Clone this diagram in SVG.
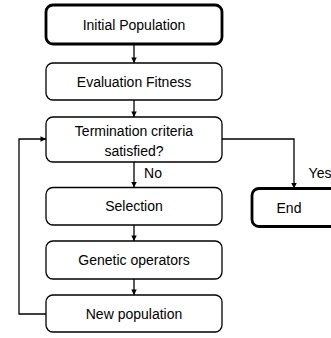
<svg xmlns="http://www.w3.org/2000/svg" width="331" height="338" viewBox="0 0 331 338">
<defs>
<marker id="arr" viewBox="0 0 10 10" refX="10" refY="5" markerWidth="6" markerHeight="5.5" markerUnits="userSpaceOnUse" orient="auto">
<path d="M0,0 L10,5 L0,10 z" fill="#000"/>
</marker>
<style>
.box{fill:#fff;stroke:#000;stroke-width:1.3}
.thick{fill:#fff;stroke:#000;stroke-width:2.8}
.t{font-family:"Liberation Sans",Arial,sans-serif;font-size:14px;fill:#000;text-anchor:middle;dominant-baseline:central}
.c{fill:none;stroke:#000;stroke-width:1.3}
</style>
</defs>
<rect width="331" height="338" fill="#fff"/>
<g id="connectors">
<line class="c" x1="134" y1="44" x2="134" y2="63" marker-end="url(#arr)"/>
<line class="c" x1="134" y1="100" x2="134" y2="117" marker-end="url(#arr)"/>
<line class="c" x1="134" y1="162" x2="134" y2="187.5" marker-end="url(#arr)"/>
<line class="c" x1="134" y1="225" x2="134" y2="241" marker-end="url(#arr)"/>
<line class="c" x1="134" y1="279" x2="134" y2="295" marker-end="url(#arr)"/>
<polyline class="c" points="46,314 19,314 19,139 46,139" marker-end="url(#arr)"/>
<polyline class="c" points="222,139 294,139 294,188.5" marker-end="url(#arr)"/>
<text class="t" x="153" y="173">No</text>
<text class="t" x="320" y="173">Yes</text>
</g>
<g id="initial">
<rect class="thick" x="46" y="5" width="176" height="39" rx="7"/>
<text class="t" x="134" y="24.5">Initial Population</text>
</g>
<g id="evaluation">
<rect class="box" x="46" y="63" width="176" height="37" rx="7"/>
<text class="t" x="134" y="81.5">Evaluation Fitness</text>
</g>
<g id="termination">
<rect class="box" x="46" y="117" width="176" height="45" rx="7"/>
<text class="t" x="134" y="131">Termination criteria</text>
<text class="t" x="134" y="151">satisfied?</text>
</g>
<g id="selection">
<rect class="box" x="46" y="187.5" width="176" height="37.5" rx="7"/>
<text class="t" x="134" y="206">Selection</text>
</g>
<g id="genetic">
<rect class="box" x="46" y="241" width="176" height="38" rx="7"/>
<text class="t" x="134" y="260">Genetic operators</text>
</g>
<g id="newpop">
<rect class="box" x="46" y="295" width="176" height="37" rx="7"/>
<text class="t" x="134" y="313.5">New population</text>
</g>
<g id="end">
<rect class="thick" x="252" y="188.5" width="100" height="38" rx="7"/>
<text class="t" x="289" y="208">End</text>
</g>
</svg>
